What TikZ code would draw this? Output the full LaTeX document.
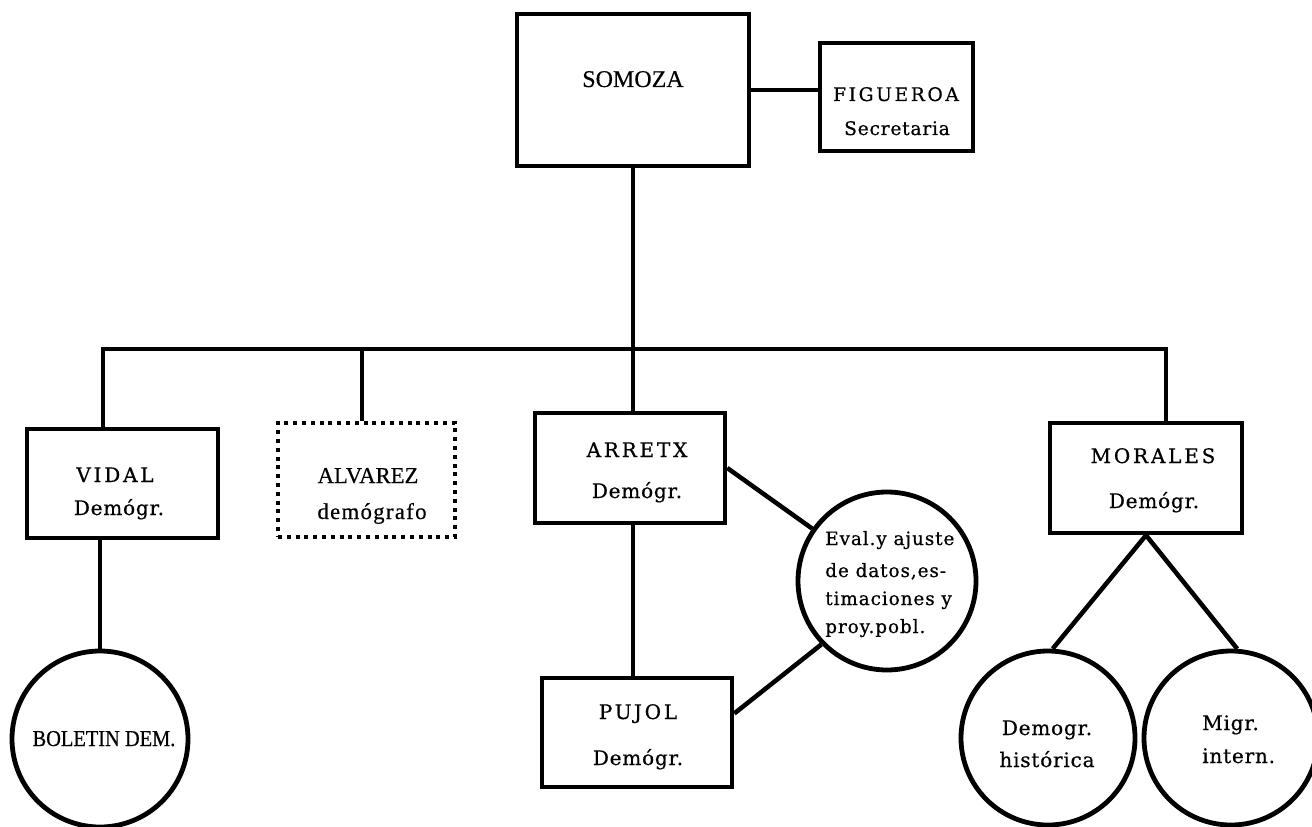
\documentclass[tikz,border=0pt]{standalone}
\usepackage{fontspec}
\setmainfont{Liberation Serif}
\newfontfamily\cfont[FakeBold=0.6]{DejaVu Serif}
\usetikzlibrary{calc}
\begin{document}
\begin{tikzpicture}[x=0.75pt,y=-0.75pt,
  box/.style={draw, line width=3.4pt, inner sep=0pt},
  dotbox/.style={draw, line width=3.4pt, inner sep=0pt, dash pattern=on 3pt off 3.6pt},
  circ/.style={draw, circle, line width=3.6pt, inner sep=0pt},
  conn/.style={line width=3.4pt},
  lab/.style={anchor=base, inner sep=0pt},
  tlab/.style={lab, font=\fontsize{17}{20}\selectfont\addfontfeature{FakeBold=0.4}},
  clab/.style={lab, font=\cfont\fontsize{15}{18}\selectfont\addfontfeature{LetterSpace=4}},
  caps/.style={lab, font=\cfont\fontsize{15}{18}\selectfont\addfontfeature{LetterSpace=14}},
  elab/.style={anchor=base west, inner sep=0pt, font=\cfont\fontsize{13.8}{16}\selectfont\addfontfeature{LetterSpace=5}},
  mlab/.style={anchor=base west, inner sep=0pt, font=\cfont\fontsize{15}{18}\selectfont\addfontfeature{LetterSpace=4}}
]
\useasboundingbox (0,0) rectangle (1312,827);
\fill[white] (0,0) rectangle (1312,827);

% boxes
\node[box, minimum width=174pt, minimum height=114pt] (som) at (633,90) {};
\node[box, minimum width=114.75pt, minimum height=81pt] (fig) at (896.5,97) {};
\node[box, minimum width=143.25pt, minimum height=81.75pt] (vid) at (122.5,483.5) {};
\node[dotbox, minimum width=132.75pt, minimum height=85.5pt] (alv) at (366.5,480) {};
\node[box, minimum width=142.5pt, minimum height=82.5pt] (arr) at (630,468) {};
\node[box, minimum width=142.5pt, minimum height=81.75pt] (puj) at (637,732.5) {};
\node[box, minimum width=144pt, minimum height=82.5pt] (mor) at (1146,478) {};

% circles
\node[circ, minimum size=133.5pt] (ev) at (887,581) {};
\node[circ, minimum size=132pt] (bol) at (100,739) {};
\node[circ, minimum size=130.5pt] (dem) at (1048,738) {};
\node[circ, minimum size=130.5pt] (mig) at (1231,738) {};

% connectors
\coordinate (bL) at (103,349);
\coordinate (bA) at (362,349);
\coordinate (bR) at (1166,349);
\draw[conn] (som.east) -- (som.east -| fig.west);
\draw[conn, line join=miter] (bL |- vid.north) -- (bL) -- (bR) -- (bR |- mor.north);
\draw[conn] (som.south) -- (som.south |- arr.north);
\draw[conn] (bA) -- (bA |- alv.north);
\draw[conn] (vid.south -| bol.north) -- (bol.north);
\draw[conn] (arr.south -| som.south) -- (puj.north -| som.south);
\draw[conn] (arr.east) -- (ev.145);
\draw[conn] ($(puj.east)+(0,-19)$) -- (ev.224);
\draw[conn] (mor.south) -- (dem.87);
\draw[conn] (mor.south) -- (mig.86);

% texts
\node[tlab, font=\fontsize{18}{20}\selectfont\addfontfeature{FakeBold=0.4}] (tsom) at (633,87) {SOMOZA};
\node[caps, font=\cfont\fontsize{14}{17}\selectfont\addfontfeature{LetterSpace=14}] (tfig1) at (896,101) {FIGUEROA};
\node[clab, font=\cfont\fontsize{14}{17}\selectfont\addfontfeature{LetterSpace=4}] (tfig2) at (897,135) {Secretaria};
\node[caps] (tvid1) at (115,482) {VIDAL};
\node[clab] (tvid2) at (119,515) {Demógr.};
\node[tlab] (talv1) at (368,483) {ALVAREZ};
\node[tlab, font=\fontsize{17}{20}\selectfont\addfontfeature{LetterSpace=6,FakeBold=0.4}] (talv2) at (372,519) {demógrafo};
\node[caps] (tarr1) at (637,457) {ARRETX};
\node[clab] (tarr2) at (637,498) {Demógr.};
\node[caps] (tpuj1) at (638,719) {PUJOL};
\node[clab] (tpuj2) at (638,765) {Demógr.};
\node[caps] (tmor1) at (1153,463) {MORALES};
\node[clab] (tmor2) at (1154,508) {Demógr.};
\node[elab] (tev1) at (825,545) {Eval.y ajuste};
\node[elab] (tev2) at (825,577) {de datos,es-};
\node[elab] (tev3) at (825,605) {timaciones y};
\node[elab] (tev4) at (825,633) {proy.pobl.};
\node[tlab, font=\fontsize{17}{20}\selectfont\addfontfeature{FakeStretch=0.9,FakeBold=0.4}] (tbol) at (104,746) {BOLETIN DEM.};
\node[clab] (tdem1) at (1047,735) {Demogr.};
\node[clab] (tdem2) at (1047,767) {histórica};
\node[mlab] (tmig1) at (1202,730) {Migr.};
\node[mlab] (tmig2) at (1202,763) {intern.};
\end{tikzpicture}
\end{document}
